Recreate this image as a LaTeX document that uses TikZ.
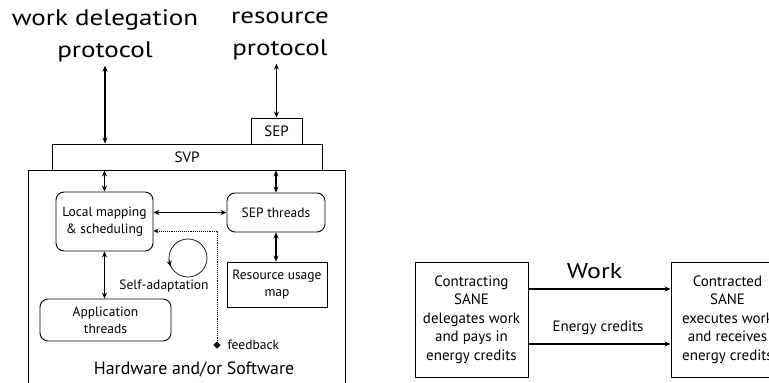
\documentclass[tikz,border=0pt]{standalone}
\usepackage{fontspec}
\setmainfont{PT Sans}
\newfontfamily\widefont[FakeStretch=1.2]{PT Sans}
\usetikzlibrary{arrows.meta,shapes.geometric}
\tikzset{
  ln/.style={line width=0.9pt},
  arr/.style={line width=1.1pt,{Stealth[length=6pt,width=5pt]}-{Stealth[length=6pt,width=5pt]}},
  onearr/.style={line width=1.1pt,-{Stealth[length=6pt,width=5pt]}},
  rbox/.style={draw,ln,rounded corners=8pt,align=center,inner sep=0pt},
  sbox/.style={draw,ln,align=center,inner sep=0pt},
  big/.style={font=\widefont\fontsize{22.5}{32}\selectfont,align=center},
  mid/.style={font=\fontsize{13.5}{17}\selectfont},
  rtext/.style={font=\fontsize{15}{18.5}\selectfont},
}
\begin{document}
\begin{tikzpicture}[x=1pt,y=-1pt]
\useasboundingbox (0,0) rectangle (769,383);
\clip (0,0) rectangle (769,383);
% top labels
\node[big] (wdp) at (105,36) {work delegation\\protocol};
\node[big] (rp) at (280,36) {resource\\protocol};
% boxes
\node[sbox,minimum width=270pt,minimum height=26pt,font=\fontsize{15}{18}\selectfont] (svp) at (187,157) {SVP};
\node[sbox,minimum width=51pt,minimum height=26pt,font=\fontsize{15}{18}\selectfont] (sep) at (276.5,131) {SEP};
\node[sbox,minimum width=317pt,minimum height=240pt] (hw) at (186.5,290) {};
\node[font=\fontsize{17.8}{20}\selectfont] (hwl) at (194,369) {Hardware and/or Software};
\node[rbox,mid,minimum width=97pt,minimum height=59pt] (lm) at (104.5,221.5) {Local mapping\\\& scheduling};
\node[rbox,mid,minimum width=98pt,minimum height=39pt] (sept) at (276,212.5) {SEP threads};
\node[rbox,mid,minimum width=131pt,minimum height=42pt] (app) at (105.5,320) {Application\\threads};
\node[sbox,mid,minimum width=100pt,minimum height=45pt] (rum) at (277,284.5) {Resource usage\\map};
% top arrows
\draw[arr] (wdp.south) -- (wdp.south |- svp.north);
\draw[arr] (sep.north |- rp.south) -- (sep.north);
% inner arrows
\draw[arr] (lm.north) -- (lm.north |- svp.south);
\draw[arr] (sept.north) -- (sept.north |- svp.south);
\draw[arr] (lm.east |- sept.west) -- (sept.west);
\draw[arr] (lm.south) -- (lm.south |- app.north);
\draw[arr] (sept.south) -- (sept.south |- rum.north);
% feedback
\coordinate (fb) at (217,345);
\draw[line width=0.9pt,densely dotted,-{Stealth[length=5pt,width=4.5pt]}] (fb) |- ([yshift=-9.5pt]lm.east);
\node[diamond,fill,inner sep=1.8pt] (fbd) at (fb) {};
\node[mid,anchor=west] (fbl) at (224,345) {feedback};
% self adaptation loop
\node[circle,draw,line width=0.7pt,minimum size=38pt,inner sep=0pt] (loop) at (188,258) {};
\draw[line width=0.7pt,-{Stealth[length=6pt,width=5pt]}] (loop.185) -- (loop.207);
\node[mid] (sa) at (164,286) {Self-adaptation};
% right diagram
\node[sbox,rtext,minimum width=113pt,minimum height=115pt] (cl) at (471.5,319.5) {Contracting\\SANE\\delegates work\\and pays in\\energy credits};
\node[sbox,rtext,minimum width=113pt,minimum height=115pt] (cd) at (727.5,319.5) {Contracted\\SANE\\executes work\\and receives\\energy credits};
\draw[onearr] ([yshift=30.5pt]cl.east) -- ([yshift=30.5pt]cd.west);
\draw[onearr] ([yshift=-24.5pt]cl.east) -- ([yshift=-24.5pt]cd.west);
\node[font=\widefont\fontsize{21.5}{24}\selectfont] (wk) at (594.5,271) {Work};
\node[rtext] (ec) at (598,328) {Energy credits};
\end{tikzpicture}
\end{document}
